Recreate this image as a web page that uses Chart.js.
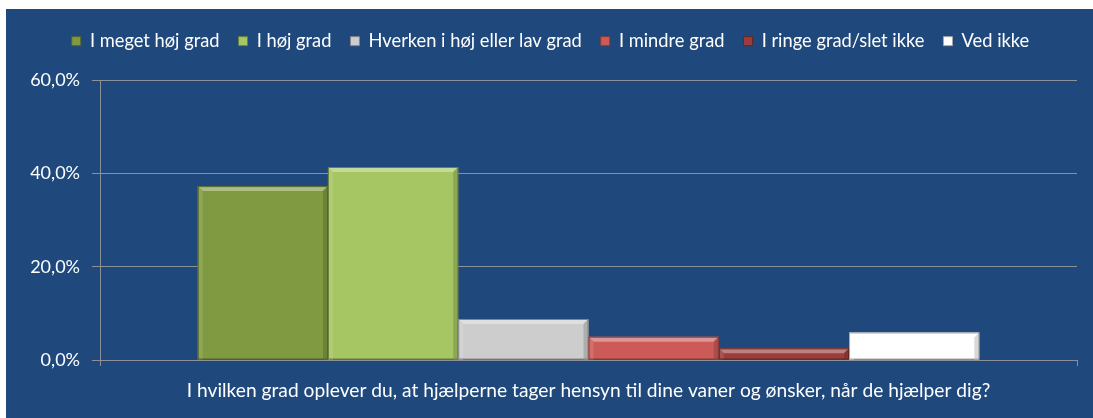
<!DOCTYPE html>
<html>
<head>
<meta charset="utf-8">
<script src="https://cdn.jsdelivr.net/npm/chart.js@4.4.0/dist/chart.umd.min.js"></script>
<style>
  html, body { margin: 0; padding: 0; background: #ffffff; }
  canvas { display: block; }
</style>
</head>
<body>
<canvas id="chart" width="1093" height="418"></canvas>
<script>
// question on the x axis (one category)
var categories = ["I hvilken grad oplever du, at hjælperne tager hensyn til dine vaner og ønsker, når de hjælper dig?"];
// answer options = series
var seriesNames = ["I meget høj grad", "I høj grad", "Hverken i høj eller lav grad", "I mindre grad", "I ringe grad/slet ikke", "Ved ikke"];
// percentages
var seriesValues = [37.3, 41.4, 8.8, 5.0, 2.5, 5.9];
var seriesColors = ["#7f9a41", "#a5c662", "#cdcdcd", "#cc5b58", "#9b3d3a", "#ffffff"];
var yTicks = [0, 20, 40, 60];

var FONT = "Lato, 'Open Sans', sans-serif";
var BG = "#1f497d";
var GRID = "#8c9099";

function shade(hex, amt) {
    var n = parseInt(hex.slice(1), 16);
    var r = (n >> 16) & 255, g = (n >> 8) & 255, b = n & 255;
    function f(c) {
        var v = amt >= 0 ? c + (255 - c) * amt : c * (1 + amt);
        return Math.round(Math.max(0, Math.min(255, v)));
    }
    return "rgb(" + f(r) + "," + f(g) + "," + f(b) + ")";
}

var datasets = [];
for (let i = 0; i < seriesNames.length; i++) {
    datasets.push({
        label: seriesNames[i],
        data: [seriesValues[i]],
        backgroundColor: seriesColors[i],
        borderColor: shade(seriesColors[i], -0.35),
        borderWidth: 1,
        barPercentage: 1.0,
        categoryPercentage: 0.8
    });
}

// white frame + dark blue panel behind the chart
var panelBg = {
    id: "panelBg",
    beforeDraw: function(chart) {
        var ctx = chart.ctx;
        ctx.save();
        ctx.fillStyle = "#ffffff";
        ctx.fillRect(0, 0, chart.width, chart.height);
        ctx.fillStyle = BG;
        ctx.fillRect(6, 9, chart.width - 6, chart.height - 9);
        ctx.restore();
    }
};

// extra room under the legend so the plot starts lower, and nudge it right
var legendGap = {
    id: "legendGap",
    afterInit: function(chart) {
        var lg = chart.legend;
        if (!lg) return;
        var fit = lg.fit;
        lg.fit = function() {
            fit.call(this);
            this.height += 20;
        };
        var draw = lg.draw;
        lg.draw = function() {
            var ctx = this.ctx;
            ctx.save();
            ctx.translate(12, 0);
            draw.call(this);
            ctx.restore();
        };
    }
};

// simple bevel look on each bar
var bevel = {
    id: "bevel",
    afterDatasetsDraw: function(chart) {
        var ctx = chart.ctx;
        var b = 5;
        chart.data.datasets.forEach(function(ds, i) {
            chart.getDatasetMeta(i).data.forEach(function(bar) {
                var p = bar.getProps(["x", "y", "base", "width"], true);
                var l = p.x - p.width / 2, r = p.x + p.width / 2, t = p.y, bt = p.base;
                var h = bt - t;
                var e = Math.min(b, h / 2);
                var c = ds.backgroundColor;
                ctx.save();
                ctx.fillStyle = shade(c, 0.35);
                ctx.beginPath();
                ctx.moveTo(l, t); ctx.lineTo(r, t); ctx.lineTo(r - e, t + e); ctx.lineTo(l + e, t + e);
                ctx.closePath(); ctx.fill();
                ctx.fillStyle = shade(c, 0.12);
                ctx.beginPath();
                ctx.moveTo(l, t); ctx.lineTo(l + e, t + e); ctx.lineTo(l + e, bt); ctx.lineTo(l, bt);
                ctx.closePath(); ctx.fill();
                ctx.fillStyle = shade(c, -0.15);
                ctx.beginPath();
                ctx.moveTo(r, t); ctx.lineTo(r - e, t + e); ctx.lineTo(r - e, bt); ctx.lineTo(r, bt);
                ctx.closePath(); ctx.fill();
                ctx.strokeStyle = shade(c, -0.35);
                ctx.lineWidth = 1;
                ctx.strokeRect(l + 0.5, t + 0.5, r - l - 1, h - 1);
                ctx.restore();
            });
        });
    }
};

new Chart(document.getElementById("chart"), {
    type: "bar",
    data: { labels: categories, datasets: datasets },
    plugins: [panelBg, legendGap, bevel],
    options: {
        responsive: false,
        animation: false,
        devicePixelRatio: 1,
        layout: { padding: { top: 13, right: 16, bottom: 0, left: 0 } },
        plugins: {
            legend: {
                position: "top",
                labels: {
                    color: "#ffffff",
                    boxWidth: 9,
                    boxHeight: 9,
                    padding: 19,
                    font: { family: FONT, size: 18.3 }
                }
            },
            tooltip: { enabled: false }
        },
        scales: {
            x: {
                offset: true,
                grid: { display: true, drawOnChartArea: false, color: GRID, tickLength: 6, offset: true },
                border: { color: GRID, width: 1 },
                ticks: { color: "#ffffff", padding: 13, font: { family: FONT, size: 19.2 } },
                afterFit: function(scale) { scale.height = 58; }
            },
            y: {
                min: 0,
                max: 60,
                afterBuildTicks: function(scale) {
                    scale.ticks = yTicks.map(function(v) { return { value: v }; });
                },
                grid: { color: GRID, tickLength: 8 },
                border: { color: GRID, width: 1 },
                ticks: {
                    color: "#ffffff",
                    padding: 12,
                    font: { family: FONT, size: 18 },
                    callback: function(v) { return v.toFixed(1).replace(".", ",") + "%"; }
                },
                afterFit: function(scale) { scale.width = 100; }
            }
        }
    }
});
</script>
</body>
</html>
